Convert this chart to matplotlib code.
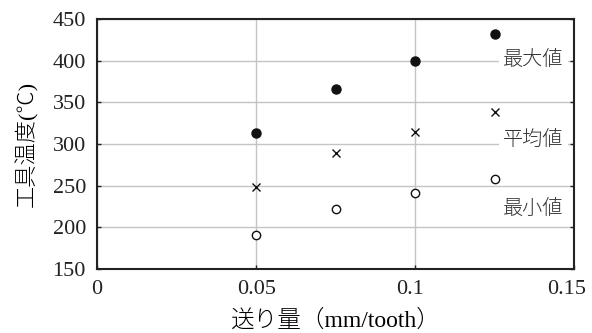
import matplotlib
matplotlib.use('Agg')
import matplotlib.pyplot as plt
import matplotlib.transforms as mtransforms

plt.rcParams['font.family'] = ['Liberation Serif', 'Noto Sans CJK JP']

# feed rate (mm/tooth)
feed = [0.05, 0.075, 0.1, 0.125]
t_max = [313, 366, 400, 432]
t_mean = [249, 289, 315, 339]
t_min = [191, 222, 241, 258]

labels = ['最大値', '平均値', '最小値']
label_y = [401, 305, 223]

fig = plt.figure(figsize=(5.92, 3.33), dpi=100)
ax = fig.add_axes([0.164, 0.192, 0.806, 0.751])

ax.plot(feed, t_max, 'o', color='#111111', markersize=6.5, zorder=3)
ax.plot(feed, t_mean, 'x', color='#111111', markersize=6, markeredgewidth=1.0, zorder=3)
ax.plot(feed, t_min, 'o', markerfacecolor='white', markeredgecolor='#111111',
        markersize=6, markeredgewidth=1.0, zorder=3)

for lab, yv in zip(labels, label_y):
	ax.text(0.1277, yv, lab, fontsize=14.5, color='#333333', ha='left', va='center',
			family=['Noto Sans CJK JP'], fontweight='light', zorder=2,
			bbox=dict(facecolor='white', edgecolor='none', pad=3))

ax.set_xlim(0, 0.15)
ax.set_ylim(150, 450)
ax.set_xticks([0, 0.05, 0.1, 0.15])
ax.set_xticklabels(['0', '0.05', '0.1', '0.15'])
ax.set_yticks(range(150, 451, 50))
ax.grid(True, color='#c4c4c4', linewidth=1.0)
ax.set_axisbelow(True)
ax.tick_params(direction='in', length=3, width=1, labelsize=16, pad=8,
			   top=False, right=True, colors='#222222')
for s in ax.spines.values():
	s.set_linewidth(1.5)
	s.set_color('#222222')

# last two x tick labels sit a bit left of their ticks in the original
shifts = [0, 0, -5, -8]
for lbl, dx in zip(ax.get_xticklabels(), shifts):
	lbl.set_transform(lbl.get_transform() + mtransforms.ScaledTranslation(dx / 100, 0, fig.dpi_scale_trans))

ax.set_xlabel('送り量（mm/tooth）', fontsize=17, labelpad=7, fontweight='light',
			  family=['Liberation Serif', 'Noto Sans CJK JP'])
ax.set_ylabel('工具温度(℃)', fontsize=16, labelpad=10, fontweight='light',
			  family=['Liberation Serif', 'Noto Sans CJK JP'])

fig.savefig('out.png', dpi=100)
